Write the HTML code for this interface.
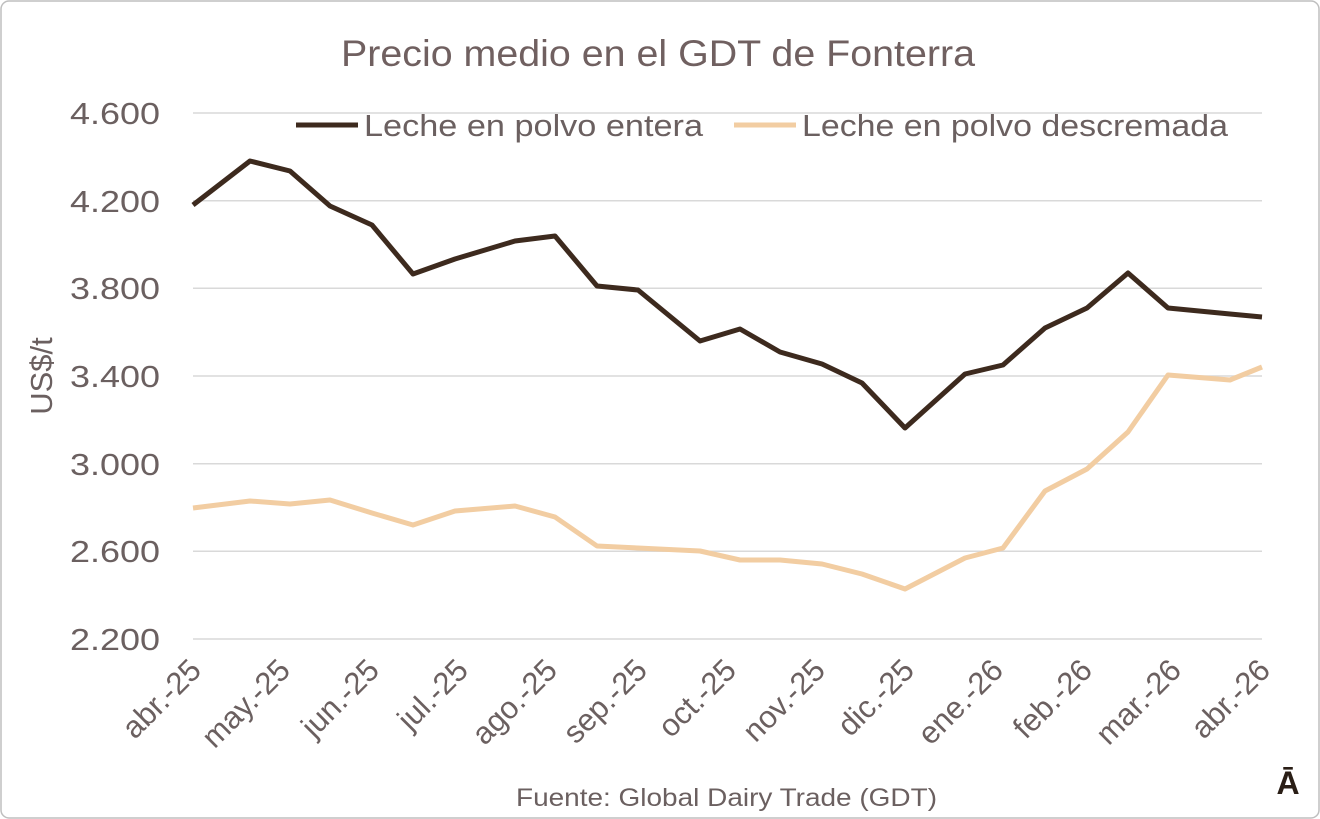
<!DOCTYPE html>
<html><head><meta charset="utf-8"><style>
body{margin:0;background:#fff;}
svg{display:block;font-family:"Liberation Sans",sans-serif;}
</style></head><body>
<svg width="1320" height="819" viewBox="0 0 1320 819">
<rect x="1" y="1" width="1318" height="817" rx="8" fill="#fff" stroke="#bfbfbf" stroke-width="1.5"/>
<text x="341" y="66" font-size="37" fill="#706060" textLength="634" lengthAdjust="spacingAndGlyphs">Precio medio en el GDT de Fonterra</text>
<g stroke="#d9d9d9" stroke-width="1.5">
<line x1="193" x2="1262" y1="113" y2="113"/><line x1="193" x2="1262" y1="200.7" y2="200.7"/>
<line x1="193" x2="1262" y1="288.3" y2="288.3"/><line x1="193" x2="1262" y1="376" y2="376"/>
<line x1="193" x2="1262" y1="463.7" y2="463.7"/><line x1="193" x2="1262" y1="551.3" y2="551.3"/>
<line x1="193" x2="1262" y1="639" y2="639"/>
</g>
<g font-size="31" fill="#6b6060">
<text x="70" y="124" textLength="90" lengthAdjust="spacingAndGlyphs">4.600</text>
<text x="70" y="212" textLength="90" lengthAdjust="spacingAndGlyphs">4.200</text>
<text x="70" y="299" textLength="90" lengthAdjust="spacingAndGlyphs">3.800</text>
<text x="70" y="387" textLength="90" lengthAdjust="spacingAndGlyphs">3.400</text>
<text x="70" y="475" textLength="90" lengthAdjust="spacingAndGlyphs">3.000</text>
<text x="70" y="562" textLength="90" lengthAdjust="spacingAndGlyphs">2.600</text>
<text x="70" y="650" textLength="90" lengthAdjust="spacingAndGlyphs">2.200</text>
</g>
<text transform="translate(52,376) rotate(-90)" text-anchor="middle" font-size="31" fill="#6b6060">US$/t</text>
<g font-size="31" fill="#6b6060" text-anchor="end">
<text transform="translate(203,672) rotate(-45)">abr.-25</text>
<text transform="translate(292,672) rotate(-45)">may.-25</text>
<text transform="translate(381,672) rotate(-45)">jun.-25</text>
<text transform="translate(470,672) rotate(-45)">jul.-25</text>
<text transform="translate(559,672) rotate(-45)">ago.-25</text>
<text transform="translate(649,672) rotate(-45)">sep.-25</text>
<text transform="translate(738,672) rotate(-45)">oct.-25</text>
<text transform="translate(827,672) rotate(-45)">nov.-25</text>
<text transform="translate(916,672) rotate(-45)">dic.-25</text>
<text transform="translate(1005,672) rotate(-45)">ene.-26</text>
<text transform="translate(1094,672) rotate(-45)">feb.-26</text>
<text transform="translate(1183,672) rotate(-45)">mar.-26</text>
<text transform="translate(1272,672) rotate(-45)">abr.-26</text>
</g>
<polyline fill="none" stroke="#f2cda2" stroke-width="5" stroke-linejoin="round" points="193,508 250,501 290,504 330,500 372,513 413,525 455,511 515,506 555,517 597,546 638,548 700,551 740,560 780,560 822,564 862,574 905,589 965,558 1003,548 1045,491 1087,469 1128,432 1168,375 1230,380 1262,367"/>
<polyline fill="none" stroke="#3d2a1e" stroke-width="5" stroke-linejoin="round" points="193,205 250,161 290,171 330,206 372,225 413,274 455,259 515,241 555,236 597,286 638,290 700,341 740,329 780,352 822,364 862,383 905,428 965,374 1003,365 1045,328 1087,308 1128,273 1168,308 1230,314 1262,317"/>
<line x1="296" x2="358" y1="125" y2="125" stroke="#3d2a1e" stroke-width="5"/>
<text x="364" y="136" font-size="31" fill="#6b6060" textLength="339" lengthAdjust="spacingAndGlyphs">Leche en polvo entera</text>
<line x1="734" x2="796" y1="125" y2="125" stroke="#f2cda2" stroke-width="5"/>
<text x="802" y="136" font-size="31" fill="#6b6060" textLength="426" lengthAdjust="spacingAndGlyphs">Leche en polvo descremada</text>
<text x="516" y="806" font-size="25" fill="#6b6060" textLength="421" lengthAdjust="spacingAndGlyphs">Fuente: Global Dairy Trade (GDT)</text>
<text x="1288" y="794" text-anchor="middle" font-size="32" font-weight="bold" fill="#2a1e16">Ā</text>
</svg>
</body></html>
